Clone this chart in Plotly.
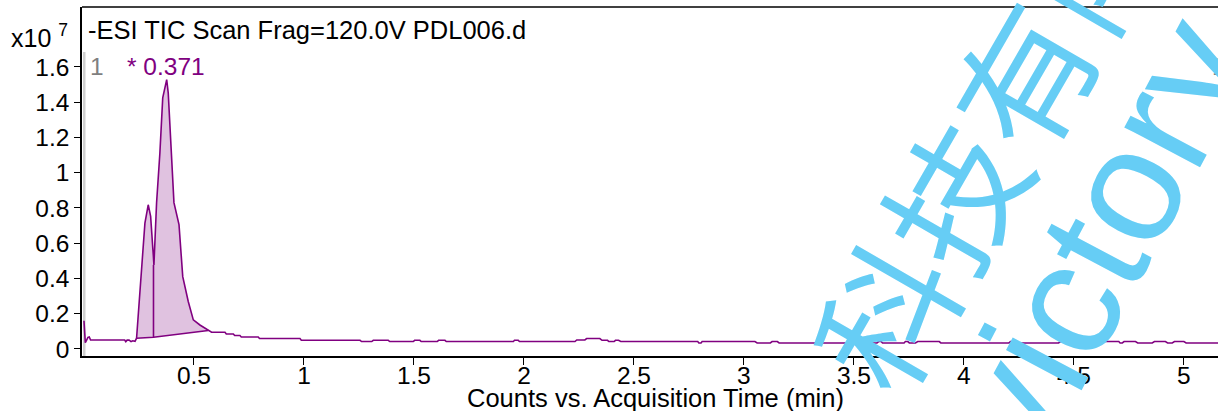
import numpy as np
import plotly.graph_objects as go

# ---------------- data (counts in units of 10^7, time in min) ----------------
head_time = [0.000, 0.006, 0.012, 0.018, 0.024, 0.030, 0.185, 0.190, 0.196, 0.205, 0.214, 0.222,
             0.232, 0.239, 0.277, 0.292, 0.303, 0.315, 0.318, 0.330, 0.345, 0.358, 0.376, 0.383,
             0.394, 0.409, 0.432, 0.449, 0.474, 0.497, 0.527, 0.558, 0.573]
head_counts = [0.160, 0.036, 0.050, 0.066, 0.068, 0.051, 0.051, 0.041, 0.050, 0.050, 0.042, 0.046,
               0.043, 0.061, 0.714, 0.818, 0.752, 0.477, 0.477, 0.828, 1.110, 1.424, 1.528, 1.453,
               1.190, 0.830, 0.705, 0.410, 0.269, 0.165, 0.136, 0.112, 0.098]

# flat stretches of the baseline after the peaks
seg_start = [0.580, 0.647, 0.685, 0.715, 0.798, 0.988, 1.262, 1.315, 1.390, 1.503, 1.533, 1.612,
             1.647, 1.957, 1.980, 2.240, 2.285, 2.355, 2.386, 2.416, 2.440, 2.795, 2.810, 3.060,
             3.128, 3.160, 3.612, 3.630, 3.734, 3.752, 3.790, 3.895, 4.212, 4.236, 4.440, 4.560,
             4.585, 4.710, 4.728, 4.790, 4.866, 4.926, 4.957, 5.010]
seg_end = [0.641, 0.679, 0.709, 0.792, 0.982, 1.255, 1.308, 1.383, 1.497, 1.527, 1.606, 1.641,
           1.952, 1.974, 2.232, 2.277, 2.345, 2.380, 2.410, 2.430, 2.790, 2.805, 3.050, 3.120,
           3.152, 3.605, 3.624, 3.728, 3.745, 3.780, 3.888, 4.205, 4.228, 4.430, 4.553, 4.578,
           4.704, 4.720, 4.780, 4.856, 4.916, 4.947, 5.000, 5.160]
seg_level = [0.095, 0.085, 0.076, 0.068, 0.059, 0.049, 0.042, 0.049, 0.042, 0.049, 0.042, 0.049,
             0.042, 0.049, 0.042, 0.051, 0.059, 0.049, 0.042, 0.049, 0.042, 0.034, 0.042, 0.034,
             0.042, 0.034, 0.042, 0.034, 0.042, 0.034, 0.042, 0.034, 0.042, 0.034, 0.042, 0.049,
             0.042, 0.034, 0.042, 0.034, 0.042, 0.034, 0.042, 0.034]

# integrated peaks
peak_start = [0.239, 0.316]
peak_end = [0.316, 0.565]
base_start = [0.061, 0.066]
base_end = [0.066, 0.105]
peak_rt = 0.371

x_ticks = [0.5, 1, 1.5, 2, 2.5, 3, 3.5, 4, 4.5, 5]
x_tick_text = ["0.5", "1", "1.5", "2", "2.5", "3", "3.5", "4", "4.5", "5"]
y_ticks = [0, 0.2, 0.4, 0.6, 0.8, 1.0, 1.2, 1.4, 1.6]
y_tick_text = ["0", "0.2", "0.4", "0.6", "0.8", "1", "1.2", "1.4", "1.6"]

title_text = "-ESI TIC Scan Frag=120.0V PDL006.d"
x_title = "Counts vs. Acquisition Time (min)"

# ---------------- build the trace ----------------
time = list(head_time)
counts = list(head_counts)
for s, e, v in zip(seg_start, seg_end, seg_level):
    time += [s, e]
    counts += [v, v]
time = np.array(time)
counts = np.array(counts)

PURPLE = "#800080"
FILL = "#E0C2E0"
FONT = "Liberation Sans"
W, H = 1218, 411
ML, MR, MT, MB = 82, 0, 7, 55
PW, PH = W - ML - MR, H - MT - MB


def px(xp):
    return (xp - ML) / PW


def py(yp):
    return (H - MB - yp) / PH


fig = go.Figure()

# filled integration areas
for ps, pe, bs, be in zip(peak_start, peak_end, base_start, base_end):
    inside = (time > ps) & (time < pe)
    xs = [ps] + list(time[inside]) + [pe]
    ys = list(np.interp(xs, time, counts))
    xs += [pe, ps]
    ys += [be, bs]
    fig.add_trace(go.Scatter(x=xs, y=ys, fill="toself", fillcolor=FILL, mode="lines",
                             line=dict(width=0), hoverinfo="skip", showlegend=False))

# baselines and drop line
drop_top = float(np.interp(peak_end[0], time, counts))
fig.add_trace(go.Scatter(
    x=[peak_start[0], peak_end[0], peak_end[1], None, peak_end[0], peak_end[0]],
    y=[base_start[0], base_end[0], base_end[1], None, base_end[0], drop_top],
    mode="lines", line=dict(color=PURPLE, width=1.6), hoverinfo="skip", showlegend=False))

# chromatogram
fig.add_trace(go.Scatter(x=time, y=counts, mode="lines",
                         line=dict(color=PURPLE, width=1.6), showlegend=False))

axis_font = dict(family=FONT, size=24.5, color="black")
fig.update_layout(
    width=W, height=H,
    margin=dict(l=ML, r=MR, t=MT, b=MB, pad=0),
    paper_bgcolor="white", plot_bgcolor="white",
    font=dict(family=FONT, size=24, color="black"),
    xaxis=dict(range=[-0.009, 5.155], tickvals=x_ticks, ticktext=x_tick_text,
               ticks="outside", ticklen=7, tickwidth=1, tickcolor="black",
               showline=True, linecolor="black", linewidth=2,
               showgrid=False, zeroline=False, tickfont=axis_font, ticklabelstandoff=-10),
    yaxis=dict(range=[-0.04, 1.94], tickvals=y_ticks, ticktext=y_tick_text,
               ticks="outside", ticklen=6, tickwidth=1, tickcolor="black",
               showline=True, linecolor="black", linewidth=1.5,
               showgrid=False, zeroline=False, tickfont=axis_font, ticklabelstandoff=0),
)

# top border and grey band next to the y-axis
fig.add_shape(type="line", xref="paper", yref="paper", x0=0, x1=1, y0=1, y1=1,
              line=dict(color="black", width=1.5))
fig.add_shape(type="rect", xref="paper", yref="paper", x0=px(83), x1=px(85.5),
              y0=0, y1=py(52), line=dict(width=0), fillcolor="#CFCFCF", layer="below")

ann = []
ann.append(dict(text=title_text, xref="paper", yref="paper", x=px(86), y=py(30),
                xanchor="left", yanchor="middle", showarrow=False,
                font=dict(family=FONT, size=25.5, color="black")))
ann.append(dict(text="x10 <sup>7</sup>", xref="paper", yref="paper", x=px(9), y=py(36),
                xanchor="left", yanchor="middle", showarrow=False,
                font=dict(family=FONT, size=25, color="black")))
ann.append(dict(text="1", xref="paper", yref="paper", x=px(88), y=py(66),
                xanchor="left", yanchor="middle", showarrow=False,
                font=dict(family=FONT, size=24.5, color="#7F7F7F")))
ann.append(dict(text="1", xref="paper", yref="paper", x=px(1210), y=py(66),
                xanchor="left", yanchor="middle", showarrow=False,
                font=dict(family=FONT, size=24.5, color="#7F7F7F")))
ann.append(dict(text="* %.3f" % peak_rt, xref="x", yref="paper", x=peak_rt, y=py(66),
                xanchor="center", yanchor="middle", showarrow=False,
                font=dict(family=FONT, size=24.5, color=PURPLE)))
ann.append(dict(text=x_title, xref="paper", yref="paper", x=px(655), y=py(398),
                xanchor="center", yanchor="middle", showarrow=False,
                font=dict(family=FONT, size=25.5, color="black")))

# watermark
WM = "#66CDF5"
ann.append(dict(text="科技有限", xref="paper", yref="paper", x=px(985), y=py(134),
                xanchor="center", yanchor="middle", showarrow=False, textangle=-60,
                font=dict(family="Noto Sans CJK SC", size=138, color=WM, weight=400)))
ann.append(dict(text="victory", xref="paper", yref="paper", x=px(1098), y=py(238),
                xanchor="center", yanchor="middle", showarrow=False, textangle=-62,
                font=dict(family=FONT, size=162, color=WM)))
fig.update_layout(annotations=ann)

fig.write_html("out.html", config={"displayModeBar": False},
               post_script="document.body.style.margin='0px';document.body.style.overflow='hidden';")
